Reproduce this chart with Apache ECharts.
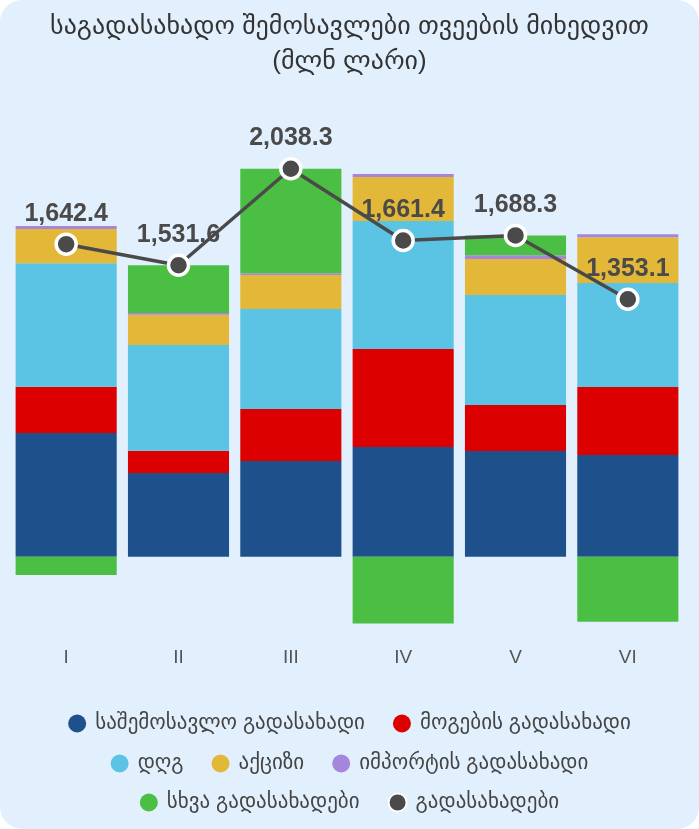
<!DOCTYPE html>
<html>
<head>
<meta charset="utf-8">
<script src="https://cdn.jsdelivr.net/npm/echarts@6/dist/echarts.min.js"></script>
<style>
  html, body { margin: 0; padding: 0; background: #ffffff; }
  #chart {
    width: 699px;
    height: 829px;
    background: #e2effc;
    border-radius: 22px;
    overflow: hidden;
  }
</style>
</head>
<body>
<div id="chart"></div>
<script>
// თვეები
const months = ['I', 'II', 'III', 'IV', 'V', 'VI']

// სერიები (მლნ ლარი)
const incomeTax = [651, 441, 504, 577, 556, 535]
const profitTax = [242, 116, 273, 515, 242, 357]
const vat = [649, 556, 525, 672, 578, 546]
const excise = [180, 159, 178, 231, 189, 241]
const importTax = [16, 9, 9, 16, 19, 16]
const otherTax = [-96, 251, 549, -350, 104, -341]
const totalTax = [1642.4, 1531.6, 2038.3, 1661.4, 1688.3, 1353.1]

const names = [
  'საშემოსავლო გადასახადი',
  'მოგების გადასახადი',
  'დღგ',
  'აქციზი',
  'იმპორტის გადასახადი',
  'სხვა გადასახადები',
  'გადასახადები'
]
const colors = ['#1e508b', '#dd0000', '#5bc4e5', '#e3b737', '#a686dc', '#4bbf43', '#4a4a4a']

const font = '"Liberation Sans", "DejaVu Sans", sans-serif'

const chart = echarts.init(document.getElementById('chart'), null, { renderer: 'canvas' })

const barData = [incomeTax, profitTax, vat, excise, importTax, otherTax]
const barSeries = barData.map((d, i) => ({
  name: names[i],
  type: 'bar',
  stack: 'tax',
  data: d,
  barCategoryGap: '10%',
  itemStyle: { color: colors[i] }
}))

const legendCommon = {
  left: 'center',
  icon: 'circle',
  itemWidth: 18,
  itemHeight: 20,
  itemGap: 28,
  textStyle: { fontFamily: font, fontSize: 21, color: '#444', padding: [0, 0, 0, 4] }
}

const option = {
  animation: false,
  color: colors,
  title: {
    text: 'საგადასახადო შემოსავლები თვეების მიხედვით\n(მლნ ლარი)',
    left: 'center',
    top: 4,
    textStyle: {
      fontFamily: font,
      fontSize: 26,
      fontWeight: 'normal',
      color: '#333',
      lineHeight: 35
    }
  },
  legend: [
    Object.assign({ top: 708, data: names.slice(0, 2) }, legendCommon),
    Object.assign({ top: 748, data: names.slice(2, 5) }, legendCommon),
    Object.assign({ top: 787, data: names.slice(5, 7) }, legendCommon)
  ],
  grid: { left: 10, right: 15, top: 138, bottom: 196 },
  xAxis: {
    type: 'category',
    data: months,
    axisLine: { show: false },
    axisTick: { show: false },
    axisLabel: { color: '#555', fontSize: 19, fontFamily: font, margin: 15 }
  },
  yAxis: {
    type: 'value',
    min: -400,
    max: 2200,
    show: false,
    splitLine: { show: false }
  },
  series: barSeries.concat([{
    name: names[6],
    type: 'line',
    data: totalTax,
    z: 10,
    symbol: 'circle',
    symbolSize: 20,
    lineStyle: { color: colors[6], width: 3.5 },
    itemStyle: { color: colors[6], borderColor: '#fff', borderWidth: 3.5 },
    label: {
      show: true,
      position: 'top',
      distance: 6,
      fontFamily: font,
      fontSize: 25,
      fontWeight: 'bold',
      color: '#4a4a4a',
      formatter: p => p.value.toLocaleString('en-US', { minimumFractionDigits: 1, maximumFractionDigits: 1 })
    }
  }])
}

chart.setOption(option)
</script>
</body>
</html>
